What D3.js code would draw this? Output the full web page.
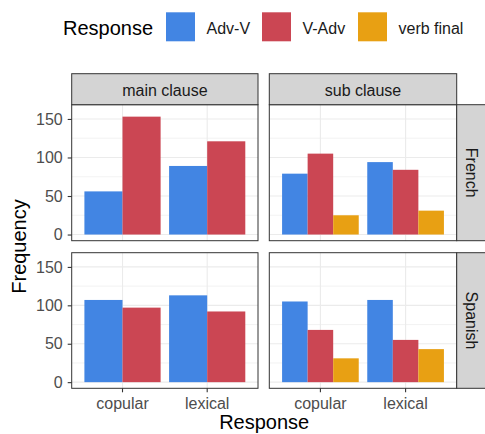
<!DOCTYPE html>
<html>
<head>
<meta charset="utf-8">
<script src="https://cdn.jsdelivr.net/npm/d3@7"></script>
<style>
  body { margin: 0; background: #fff; }
  text { font-family: "Liberation Sans", Arial, sans-serif; }
</style>
</head>
<body>
<svg width="485" height="434"></svg>
<script>
// data, panel order: French-main, French-sub, Spanish-main, Spanish-sub
const rows = ['French', 'Spanish']
const cols = ['main clause', 'sub clause']
const responses = ['Adv-V', 'V-Adv', 'verb final']
const categories = ['copular', 'lexical']
const advV = [[56, 89], [79, 94], [107, 113], [105, 107]]
const vAdv = [[153, 121], [105, 84], [97, 92], [68, 55]]
const verbFinal = [null, [25, 31], null, [31, 43]]
const yTicks = [0, 50, 100, 150]
const yMinor = [25, 75, 125]

const colors = { 'Adv-V': '#4285e3', 'V-Adv': '#cb4653', 'verb final': '#e8a013' }

const svg = d3.select('svg')

const colX = [[71.7, 258], [269.3, 456.7]]
const rowY = [[104.7, 240.7], [252.7, 388.3]]
const stripTop = 73.7
const stripRight = 485

// legend
svg.append('text').attr('x', 63).attr('y', 35).attr('font-size', 20).attr('fill', '#000').text('Response')
const legX = [166, 262, 358]
responses.forEach((r, i) => {
  svg.append('rect').attr('x', legX[i]).attr('y', 12.3).attr('width', 29).attr('height', 29).attr('fill', colors[r])
  svg.append('text').attr('x', legX[i] + 40.5).attr('y', 33.5).attr('font-size', 16).attr('fill', '#1a1a1a').text(r)
})

rows.forEach((row, ri) => {
  cols.forEach((col, ci) => {
    const p = ri * 2 + ci
    const [x0, x1] = colX[ci]
    const [y0, y1] = rowY[ri]
    const series = [{ key: 'Adv-V', vals: advV[p] }, { key: 'V-Adv', vals: vAdv[p] }]
    if (verbFinal[p]) series.push({ key: 'verb final', vals: verbFinal[p] })

    const x = d3.scaleBand().domain(categories).range([x0, x1]).paddingInner(0.1).paddingOuter(0.15)
    const xSub = d3.scaleBand().domain(series.map(s => s.key)).range([0, x.bandwidth()])
    const y = d3.scaleLinear().domain([-8, 168.5]).range([y1, y0])

    const g = svg.append('g')
    // grid
    g.selectAll('.minor').data(yMinor).enter().append('line')
      .attr('x1', x0).attr('x2', x1).attr('y1', d => y(d)).attr('y2', d => y(d))
      .attr('stroke', '#ebebeb').attr('stroke-width', 0.6)
    g.selectAll('.major').data(yTicks).enter().append('line')
      .attr('x1', x0).attr('x2', x1).attr('y1', d => y(d)).attr('y2', d => y(d))
      .attr('stroke', '#ebebeb').attr('stroke-width', 1.1)
    g.selectAll('.vmajor').data(categories).enter().append('line')
      .attr('x1', d => x(d) + x.bandwidth() / 2).attr('x2', d => x(d) + x.bandwidth() / 2)
      .attr('y1', y0).attr('y2', y1)
      .attr('stroke', '#ebebeb').attr('stroke-width', 1.1)

    // bars
    series.forEach(s => {
      g.selectAll(null).data(s.vals).enter().append('rect')
        .attr('x', (d, i) => x(categories[i]) + xSub(s.key))
        .attr('width', xSub.bandwidth())
        .attr('y', d => y(d))
        .attr('height', d => y(0) - y(d))
        .attr('fill', colors[s.key])
    })

    // border
    g.append('rect').attr('x', x0).attr('y', y0).attr('width', x1 - x0).attr('height', y1 - y0)
      .attr('fill', 'none').attr('stroke', '#333').attr('stroke-width', 1)

    // top strip
    if (ri === 0) {
      g.append('rect').attr('x', x0).attr('y', stripTop).attr('width', x1 - x0).attr('height', y0 - stripTop)
        .attr('fill', '#d4d4d4').attr('stroke', '#333').attr('stroke-width', 1)
      g.append('text').attr('x', (x0 + x1) / 2).attr('y', 96)
        .attr('text-anchor', 'middle').attr('font-size', 16).attr('fill', '#1a1a1a').text(col)
    }
    // right strip
    if (ci === 1) {
      g.append('rect').attr('x', x1).attr('y', y0).attr('width', stripRight - x1 + 2).attr('height', y1 - y0)
        .attr('fill', '#d4d4d4').attr('stroke', '#333').attr('stroke-width', 1)
      const cy = (y0 + y1) / 2
      g.append('text').attr('transform', `translate(465.5,${cy}) rotate(90)`)
        .attr('text-anchor', 'middle').attr('font-size', 16).attr('fill', '#1a1a1a').text(row)
    }
    // y axis
    if (ci === 0) {
      const ax = g.append('g').attr('transform', `translate(${x0},0)`)
        .call(d3.axisLeft(y).tickValues(yTicks).tickSize(4).tickPadding(5))
      ax.select('.domain').remove()
      ax.selectAll('line').attr('stroke', '#333').attr('stroke-width', 1.1)
      ax.selectAll('text').attr('font-size', 16).attr('fill', '#4d4d4d')
        .attr('font-family', '"Liberation Sans", Arial, sans-serif')
    }
    // x axis
    if (ri === 1) {
      const ax = g.append('g').attr('transform', `translate(0,${y1})`)
        .call(d3.axisBottom(x).tickSize(4).tickPadding(5))
      ax.select('.domain').remove()
      ax.selectAll('line').attr('stroke', '#333').attr('stroke-width', 1.1)
      ax.selectAll('text').attr('font-size', 16).attr('fill', '#4d4d4d')
        .attr('font-family', '"Liberation Sans", Arial, sans-serif')
    }
  })
})

// axis titles
svg.append('text').attr('x', (colX[0][0] + colX[1][1]) / 2).attr('y', 429)
  .attr('text-anchor', 'middle').attr('font-size', 20).attr('fill', '#000').text('Response')
svg.append('text').attr('transform', `translate(26,${(rowY[0][0] + rowY[1][1]) / 2}) rotate(-90)`)
  .attr('text-anchor', 'middle').attr('font-size', 20).attr('fill', '#000').text('Frequency')
</script>
</body>
</html>
